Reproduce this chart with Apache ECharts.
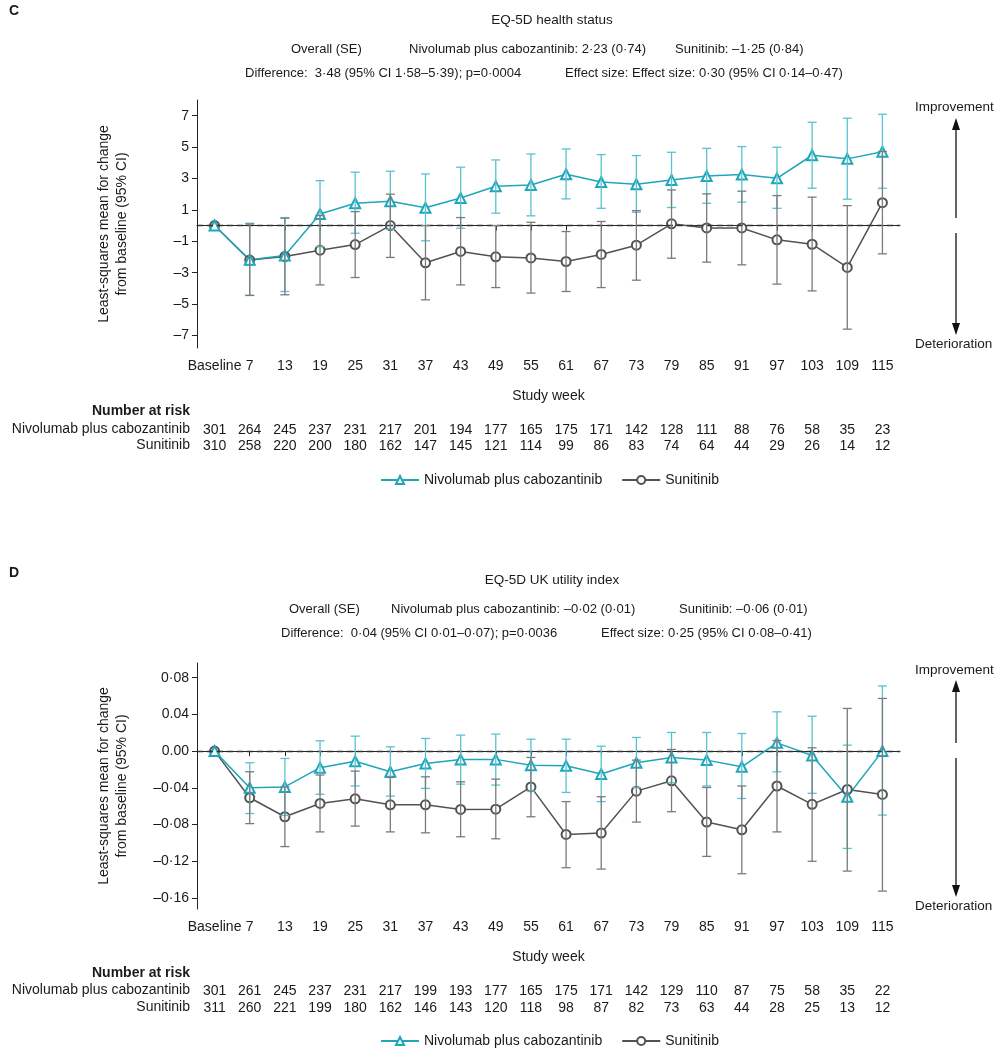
<!DOCTYPE html>
<html><head><meta charset="utf-8">
<script src="https://cdn.jsdelivr.net/npm/echarts@6/dist/echarts.min.js"></script>
<style>html,body{margin:0;padding:0;background:#fff}#c{width:997px;height:1050px}</style>
</head><body><div id="c"></div>
<script>
// ---------- shared ----------
const weeks = ['Baseline','7','13','19','25','31','37','43','49','55','61','67','73','79','85','91','97','103','109','115'];
const seriesNames = ['Nivolumab plus cabozantinib', 'Sunitinib'];

// ---------- Panel C: EQ-5D health status ----------
const hsNivoMean = [0, -2.18, -1.91, 0.74, 1.42, 1.55, 1.13, 1.76, 2.51, 2.59, 3.27, 2.78, 2.63, 2.91, 3.16, 3.25, 3.01, 4.48, 4.25, 4.71];
const hsNivoLow  = [null, -4.45, -4.2, -1.34, -0.49, -0.23, -0.97, -0.17, 0.79, 0.62, 1.7, 1.1, 0.85, 1.15, 1.42, 1.49, 1.1, 2.38, 1.68, 2.38];
const hsNivoHigh = [null, 0.15, 0.51, 2.86, 3.4, 3.46, 3.29, 3.72, 4.18, 4.56, 4.88, 4.52, 4.46, 4.67, 4.92, 5.03, 4.99, 6.58, 6.84, 7.09];
const hsSuniMean = [0, -2.2, -1.97, -1.57, -1.21, 0, -2.37, -1.65, -1.99, -2.06, -2.29, -1.84, -1.25, 0.11, -0.15, -0.15, -0.91, -1.19, -2.67, 1.46];
const hsSuniLow  = [null, -4.45, -4.41, -3.78, -3.31, -2.03, -4.73, -3.78, -3.95, -4.3, -4.2, -3.95, -3.48, -2.08, -2.33, -2.5, -3.73, -4.16, -6.6, -1.8];
const hsSuniHigh = [null, 0.1, 0.47, 0.64, 0.89, 2.0, 0.0, 0.51, 0.0, 0.21, -0.38, 0.26, 0.95, 2.27, 2.02, 2.19, 1.91, 1.81, 1.27, 4.72];
const hsTicks = [-7, -5, -3, -1, 1, 3, 5, 7];
const hsTickLabels = ['–7', '–5', '–3', '–1', '1', '3', '5', '7'];
const hsRiskNivo = [301, 264, 245, 237, 231, 217, 201, 194, 177, 165, 175, 171, 142, 128, 111, 88, 76, 58, 35, 23];
const hsRiskSuni = [310, 258, 220, 200, 180, 162, 147, 145, 121, 114, 99, 86, 83, 74, 64, 44, 29, 26, 14, 12];
const hsHeader = {
  title: 'EQ-5D health status',
  overall: 'Overall (SE)',
  nivo: 'Nivolumab plus cabozantinib: 2·23 (0·74)',
  suni: 'Sunitinib: –1·25 (0·84)',
  diff: 'Difference:  3·48 (95% CI 1·58–5·39); p=0·0004',
  effect: 'Effect size: Effect size: 0·30 (95% CI 0·14–0·47)'
};

// ---------- Panel D: EQ-5D UK utility index ----------
const uiNivoMean = [0, -0.040, -0.039, -0.018, -0.011, -0.0225, -0.0134, -0.009, -0.009, -0.0153, -0.016, -0.025, -0.0127, -0.0069, -0.0098, -0.0171, 0.009, -0.0047, -0.0497, 0];
const uiNivoLow  = [null, -0.068, -0.07, -0.047, -0.038, -0.049, -0.0406, -0.036, -0.037, -0.0436, -0.045, -0.055, -0.0396, -0.0345, -0.038, -0.0516, -0.0225, -0.046, -0.106, -0.0697];
const uiNivoHigh = [null, -0.0127, -0.008, 0.0112, 0.0163, 0.0047, 0.0138, 0.0174, 0.0185, 0.013, 0.013, 0.0054, 0.0149, 0.0203, 0.0203, 0.0192, 0.0428, 0.038, 0.0065, 0.071];
const uiSuniMean = [0, -0.0508, -0.0715, -0.057, -0.052, -0.0585, -0.0585, -0.0635, -0.0632, -0.039, -0.0908, -0.0893, -0.0436, -0.0323, -0.0773, -0.0857, -0.038, -0.058, -0.0418, -0.0472];
const uiSuniLow  = [null, -0.079, -0.104, -0.088, -0.0817, -0.088, -0.089, -0.0933, -0.0955, -0.0715, -0.127, -0.1285, -0.0773, -0.066, -0.1147, -0.1336, -0.088, -0.12, -0.1307, -0.1525];
const uiSuniHigh = [null, -0.0225, -0.039, -0.026, -0.0218, -0.0287, -0.028, -0.0334, -0.0305, -0.0069, -0.055, -0.0497, -0.0098, 0.0018, -0.0396, -0.038, 0.0116, 0.0036, 0.0465, 0.0574];
const uiTicks = [-0.16, -0.12, -0.08, -0.04, 0, 0.04, 0.08];
const uiTickLabels = ['–0·16', '–0·12', '–0·08', '–0·04', '0.00', '0.04', '0·08'];
const uiRiskNivo = [301, 261, 245, 237, 231, 217, 199, 193, 177, 165, 175, 171, 142, 129, 110, 87, 75, 58, 35, 22];
const uiRiskSuni = [311, 260, 221, 199, 180, 162, 146, 143, 120, 118, 98, 87, 82, 73, 63, 44, 28, 25, 13, 12];
const uiHeader = {
  title: 'EQ-5D UK utility index',
  overall: 'Overall (SE)',
  nivo: 'Nivolumab plus cabozantinib: –0·02 (0·01)',
  suni: 'Sunitinib: –0·06 (0·01)',
  diff: 'Difference:  0·04 (95% CI 0·01–0·07); p=0·0036',
  effect: 'Effect size: 0·25 (95% CI 0·08–0·41)'
};

const yName = 'Least-squares mean for change\nfrom baseline (95% CI)';

// ---------- styling ----------
const FONT = "'Liberation Sans', Arial, Helvetica, sans-serif";
const TXT = '#1a1a1a';
const NIVO_LINE = '#1fa6ba', NIVO_ERR = '#58c2d1';
const SUNI_LINE = '#525252', SUNI_ERR = '#7b7b7b';

const chart = echarts.init(document.getElementById('c'), null, {renderer: 'canvas'});

function errData(lo, hi) {
  const out = [];
  lo.forEach((l, i) => { if (l !== null && hi[i] !== null) out.push([i, l, hi[i]]); });
  return out;
}
function errSeries(lo, hi, color, xi, yi, z) {
  return {
    type: 'custom', xAxisIndex: xi, yAxisIndex: yi, z: z, silent: true,
    data: errData(lo, hi),
    encode: {x: 0, y: [1, 2]},
    renderItem: function (params, api) {
      const i = api.value(0);
      const p1 = api.coord([i, api.value(1)]);
      const p2 = api.coord([i, api.value(2)]);
      const w = 4.5;
      const st = {stroke: color, lineWidth: 1.3, fill: null};
      return {type: 'group', children: [
        {type: 'line', shape: {x1: p1[0], y1: p1[1], x2: p2[0], y2: p2[1]}, style: st},
        {type: 'line', shape: {x1: p1[0] - w, y1: p1[1], x2: p1[0] + w, y2: p1[1]}, style: st},
        {type: 'line', shape: {x1: p2[0] - w, y1: p2[1], x2: p2[0] + w, y2: p2[1]}, style: st}
      ]};
    }
  };
}
function lineSeries(name, data, color, symbol, size, xi, yi, withZero) {
  const s = {
    name: name, type: 'line', xAxisIndex: xi, yAxisIndex: yi, z: 4,
    data: data, symbol: symbol, symbolSize: size, showAllSymbol: true,
    lineStyle: {color: color, width: 1.5},
    itemStyle: {color: color, borderColor: color, borderWidth: 1.1},
    emphasis: {disabled: true}
  };
  if (withZero) {
    s.markLine = {
      silent: true, symbol: 'none', label: {show: false},
      lineStyle: {color: '#333', type: [6, 4], width: 1.4},
      data: [{yAxis: 0}]
    };
  }
  return s;
}
function catAxis(grid, data, offset, isMain) {
  const ax = {
    gridIndex: grid, type: 'category', data: data.map(String), boundaryGap: true,
    position: 'bottom', offset: offset,
    axisLine: {show: isMain, lineStyle: {color: '#222', width: 1}},
    axisTick: {show: isMain, alignWithLabel: true, length: 5, lineStyle: {color: '#222'}},
    axisLabel: {interval: 0, margin: 11, fontSize: 14, color: TXT, fontFamily: FONT},
    splitLine: {show: false}
  };
  if (isMain) {
    ax.name = 'Study week'; ax.nameLocation = 'middle'; ax.nameGap = 41;
    ax.nameTextStyle = {fontSize: 14, color: TXT, fontFamily: FONT};
  }
  return ax;
}
function valAxis(grid, min, max, ticks, labels) {
  return {
    gridIndex: grid, type: 'value', min: min, max: max,
    axisLine: {show: true, lineStyle: {color: '#222', width: 1}},
    axisTick: {show: true, length: 5, customValues: ticks, lineStyle: {color: '#222'}},
    axisLabel: {customValues: ticks, fontSize: 14, color: TXT, fontFamily: FONT, margin: 8,
      formatter: function (v) {
        let k = 0, best = Infinity;
        ticks.forEach((t, j) => { const d = Math.abs(t - v); if (d < best) { best = d; k = j; } });
        return labels[k];
      }},
    splitLine: {show: false},
    name: yName, nameLocation: 'middle', nameGap: 66,
    nameTextStyle: {fontSize: 14, color: TXT, fontFamily: FONT, lineHeight: 18}
  };
}
function txt(text, left, top, opts) {
  return Object.assign({
    text: text, left: left, top: top, padding: 0,
    textStyle: {fontSize: 13, fontWeight: 'normal', color: TXT, fontFamily: FONT}
  }, opts || {});
}
function headerTitles(h, y0, pos) {
  return [
    txt(h.title, 552, y0, {textAlign: 'center', textStyle: {fontSize: 13.5, fontWeight: 'normal', color: TXT, fontFamily: FONT}}),
    txt(h.overall, pos.overall, y0 + 30),
    txt(h.nivo, pos.nivo, y0 + 30),
    txt(h.suni, pos.suni, y0 + 30),
    txt(h.diff, pos.diff, y0 + 54),
    txt(h.effect, pos.effect, y0 + 54)
  ];
}
const big = {fontSize: 14, fontWeight: 'normal', color: TXT, fontFamily: FONT};
const bold = {fontSize: 14, fontWeight: 'bold', color: TXT, fontFamily: FONT};
const side = {fontSize: 13.5, fontWeight: 'normal', color: TXT, fontFamily: FONT};

const titles = [].concat(
  [txt('C', 9, 4, {textStyle: bold})],
  headerTitles(hsHeader, 13, {overall: 291, nivo: 409, suni: 675, diff: 245, effect: 565}),
  [txt('D', 9, 566, {textStyle: bold})],
  headerTitles(uiHeader, 573, {overall: 289, nivo: 391, suni: 679, diff: 281, effect: 601}),
  [
    txt('Number at risk', 190, 404, {textAlign: 'right', textStyle: bold}),
    txt(seriesNames[0], 190, 422, {textAlign: 'right', textStyle: big}),
    txt(seriesNames[1], 190, 438, {textAlign: 'right', textStyle: big}),
    txt('Number at risk', 190, 966, {textAlign: 'right', textStyle: bold}),
    txt(seriesNames[0], 190, 983, {textAlign: 'right', textStyle: big}),
    txt(seriesNames[1], 190, 1000, {textAlign: 'right', textStyle: big}),
    txt('Improvement', 915, 100, {textStyle: side}),
    txt('Deterioration', 915, 337, {textStyle: side}),
    txt('Improvement', 915, 663, {textStyle: side}),
    txt('Deterioration', 915, 899, {textStyle: side})
  ]
);

function arrows(yTop, yGapTop, yGapBot, yBot) {
  const x = 956, hw = 4, hh = 12;
  const st = {stroke: '#111', lineWidth: 1.3};
  return [
    {type: 'line', shape: {x1: x, y1: yGapTop, x2: x, y2: yTop + hh - 1}, style: st},
    {type: 'polygon', shape: {points: [[x, yTop], [x - hw, yTop + hh], [x + hw, yTop + hh]]}, style: {fill: '#111'}},
    {type: 'line', shape: {x1: x, y1: yGapBot, x2: x, y2: yBot - hh + 1}, style: st},
    {type: 'polygon', shape: {points: [[x, yBot], [x - hw, yBot - hh], [x + hw, yBot - hh]]}, style: {fill: '#111'}}
  ];
}

const legendBase = {
  left: 380, itemWidth: 38, itemHeight: 10, itemGap: 19, padding: 0,
  textStyle: {fontSize: 14, color: TXT, fontFamily: FONT},
  data: seriesNames, selectedMode: false
};

const option = {
  backgroundColor: '#fff',
  animation: false,
  textStyle: {fontFamily: FONT},
  title: titles,
  legend: [Object.assign({top: 473}, legendBase), Object.assign({top: 1034}, legendBase)],
  grid: [
    {left: 197, top: 100, width: 703, height: 248},
    {left: 197, top: 663, width: 703, height: 246}
  ],
  xAxis: [
    catAxis(0, weeks, 0, true),
    catAxis(0, hsRiskNivo, 64, false),
    catAxis(0, hsRiskSuni, 80, false),
    catAxis(1, weeks, 0, true),
    catAxis(1, uiRiskNivo, 64, false),
    catAxis(1, uiRiskSuni, 81, false)
  ],
  yAxis: [
    valAxis(0, -7.8, 8, hsTicks, hsTickLabels),
    valAxis(1, -0.172, 0.096, uiTicks, uiTickLabels)
  ],
  graphic: [].concat(arrows(118, 218, 233, 335), arrows(680, 743, 758, 897)),
  series: [
    errSeries(hsNivoLow, hsNivoHigh, NIVO_ERR, 0, 0, 5),
    errSeries(hsSuniLow, hsSuniHigh, SUNI_ERR, 0, 0, 5),
    lineSeries(seriesNames[1], hsSuniMean, SUNI_LINE, 'emptyCircle', 9, 0, 0, true),
    lineSeries(seriesNames[0], hsNivoMean, NIVO_LINE, 'emptyTriangle', 10, 0, 0, false),
    errSeries(uiNivoLow, uiNivoHigh, NIVO_ERR, 3, 1, 5),
    errSeries(uiSuniLow, uiSuniHigh, SUNI_ERR, 3, 1, 5),
    lineSeries(seriesNames[1], uiSuniMean, SUNI_LINE, 'emptyCircle', 9, 3, 1, true),
    lineSeries(seriesNames[0], uiNivoMean, NIVO_LINE, 'emptyTriangle', 10, 3, 1, false)
  ]
};
chart.setOption(option);
</script>
</body></html>
